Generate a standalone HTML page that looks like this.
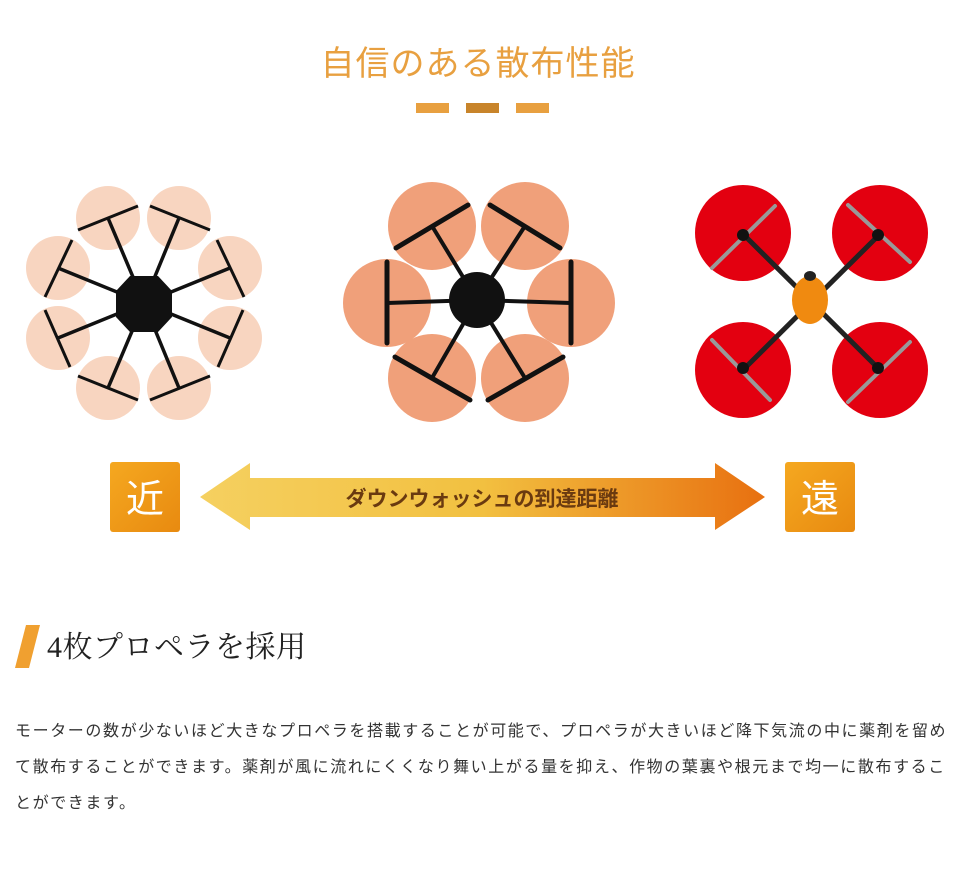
<!DOCTYPE html>
<html><head><meta charset="utf-8"><style>
body{margin:0;background:#fff;width:956px;height:884px;overflow:hidden;position:relative;font-family:"Liberation Sans","Noto Sans CJK JP",sans-serif}
.t{position:absolute;left:0;width:956px;text-align:center;top:36px;font-size:34px;color:#e8a040;font-family:"Liberation Sans","Noto Sans CJK JP",sans-serif;letter-spacing:1px}
.h{position:absolute;left:47px;top:622px;font-size:30px;color:#222;font-family:"Liberation Serif","Noto Serif CJK SC",serif;letter-spacing:0.5px}
.p{position:absolute;left:15px;top:714px;width:945px;font-size:16px;line-height:36px;color:#333;letter-spacing:1.6px;white-space:nowrap}
</style></head><body>
<div class="t">自信のある散布性能</div>
<svg width="956" height="884" style="position:absolute;left:0;top:0">
<defs>
<linearGradient id="ag" x1="0" x2="1"><stop offset="0" stop-color="#f5d060"/><stop offset="0.5" stop-color="#f2c040"/><stop offset="1" stop-color="#e87010"/></linearGradient>
<linearGradient id="bg" x1="0" y1="0" x2="1" y2="1"><stop offset="0" stop-color="#f5a820"/><stop offset="1" stop-color="#e88a10"/></linearGradient>
</defs>
<rect x="416" y="103" width="33" height="10" fill="#e8a040"/>
<rect x="466" y="103" width="33" height="10" fill="#c8842a"/>
<rect x="516" y="103" width="33" height="10" fill="#e8a040"/>
<g fill="#f8d5c0">
<circle cx="108" cy="218" r="32"/><circle cx="179" cy="218" r="32"/>
<circle cx="58" cy="268" r="32"/><circle cx="230" cy="268" r="32"/>
<circle cx="58" cy="338" r="32"/><circle cx="230" cy="338" r="32"/>
<circle cx="108" cy="388" r="32"/><circle cx="179" cy="388" r="32"/>
</g>
<g stroke="#111" stroke-width="3.5">
<line x1="144" y1="303" x2="108" y2="218"/><line x1="144" y1="303" x2="179" y2="218"/>
<line x1="144" y1="303" x2="58" y2="268"/><line x1="144" y1="303" x2="230" y2="268"/>
<line x1="144" y1="303" x2="58" y2="338"/><line x1="144" y1="303" x2="230" y2="338"/>
<line x1="144" y1="303" x2="108" y2="388"/><line x1="144" y1="303" x2="179" y2="388"/>
</g>
<g stroke="#111" stroke-width="3">
<line x1="78" y1="230" x2="138" y2="206"/><line x1="150" y1="206" x2="210" y2="230"/>
<line x1="45" y1="297" x2="72" y2="240"/><line x1="217" y1="240" x2="244" y2="297"/>
<line x1="45" y1="310" x2="70" y2="367"/><line x1="218" y1="367" x2="243" y2="310"/>
<line x1="78" y1="376" x2="138" y2="400"/><line x1="150" y1="400" x2="210" y2="376"/>
</g>
<polygon points="130,276 158,276 172,291 172,317 158,332 130,332 116,317 116,291" fill="#111"/>
<g fill="#f0a07a">
<circle cx="432" cy="226" r="44"/><circle cx="525" cy="226" r="44"/>
<circle cx="387" cy="303" r="44"/><circle cx="571" cy="303" r="44"/>
<circle cx="432" cy="378" r="44"/><circle cx="525" cy="378" r="44"/>
</g>
<g stroke="#111" stroke-width="4">
<line x1="477" y1="300" x2="432" y2="226"/><line x1="477" y1="300" x2="525" y2="226"/>
<line x1="477" y1="300" x2="387" y2="303"/><line x1="477" y1="300" x2="571" y2="303"/>
<line x1="477" y1="300" x2="432" y2="378"/><line x1="477" y1="300" x2="525" y2="378"/>
</g>
<g stroke="#111" stroke-width="5" stroke-linecap="round">
<line x1="396" y1="248" x2="468" y2="205"/><line x1="490" y1="205" x2="560" y2="248"/>
<line x1="387" y1="262" x2="387" y2="343"/><line x1="571" y1="262" x2="571" y2="343"/>
<line x1="395" y1="357" x2="470" y2="400"/><line x1="488" y1="400" x2="563" y2="357"/>
</g>
<circle cx="477" cy="300" r="28" fill="#111"/>
<g fill="#e30010">
<circle cx="743" cy="233" r="48"/><circle cx="880" cy="233" r="48"/>
<circle cx="743" cy="370" r="48"/><circle cx="880" cy="370" r="48"/>
</g>
<g stroke="#222" stroke-width="5">
<line x1="745" y1="236" x2="878" y2="368"/><line x1="878" y1="236" x2="745" y2="368"/>
</g>
<g stroke="#999" stroke-width="4" stroke-linecap="round">
<line x1="712" y1="268" x2="775" y2="206"/><line x1="848" y1="205" x2="910" y2="262"/>
<line x1="712" y1="340" x2="770" y2="400"/><line x1="848" y1="402" x2="910" y2="342"/>
</g>
<g fill="#111"><circle cx="743" cy="235" r="6"/><circle cx="878" cy="235" r="6"/><circle cx="743" cy="368" r="6"/><circle cx="878" cy="368" r="6"/></g>
<ellipse cx="810" cy="300" rx="18" ry="24" fill="#f08a10"/>
<ellipse cx="810" cy="276" rx="6" ry="5" fill="#222"/>
<polygon points="200,497 250,463 250,478 715,478 715,463 765,497 715,530 715,517 250,517 250,530" fill="url(#ag)"/>
<text x="482" y="506" text-anchor="middle" font-size="21" font-weight="bold" fill="#6a3a10" font-family="Liberation Sans,Noto Sans CJK JP,sans-serif">ダウンウォッシュの到達距離</text>
<rect x="110" y="462" width="70" height="70" rx="3" fill="url(#bg)"/>
<rect x="785" y="462" width="70" height="70" rx="3" fill="url(#bg)"/>
<text x="145" y="512" text-anchor="middle" font-size="38" fill="#fff" font-family="Liberation Sans,Noto Sans CJK JP,sans-serif">近</text>
<text x="820" y="512" text-anchor="middle" font-size="38" fill="#fff" font-family="Liberation Sans,Noto Sans CJK JP,sans-serif">遠</text>
<polygon points="26,625 40,625 29,668 15,668" fill="#f0a030"/>
</svg>
<div class="h">4枚プロペラを採用</div>
<div class="p">モーターの数が少ないほど大きなプロペラを搭載することが可能で、プロペラが大きいほど降下気流の中に薬剤を留め<br>て散布することができます。薬剤が風に流れにくくなり舞い上がる量を抑え、作物の葉裏や根元まで均一に散布するこ<br>とができます。</div>
</body></html>
